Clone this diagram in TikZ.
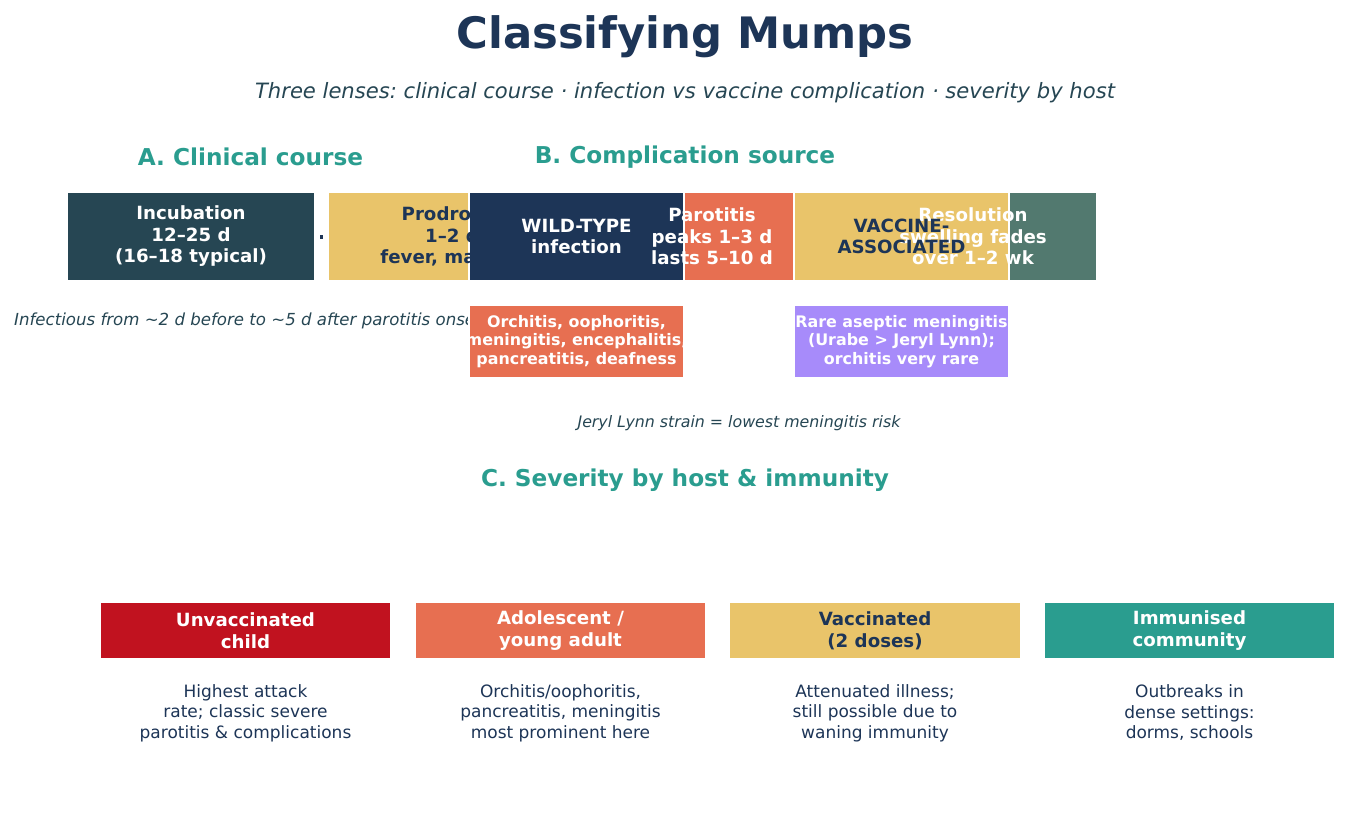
\documentclass[tikz,border=0pt]{standalone}
\usepackage{fontspec}
\setmainfont{DejaVu Sans}
\frenchspacing
\definecolor{navy}{HTML}{1D3557}
\definecolor{slate}{HTML}{264653}
\definecolor{sand}{HTML}{E9C46A}
\definecolor{coral}{HTML}{E76F51}
\definecolor{sage}{HTML}{52796F}
\definecolor{teal}{HTML}{2A9D8F}
\definecolor{crimson}{HTML}{C1121F}
\definecolor{lilac}{HTML}{A78BFA}
\tikzset{
  boxshape/.style={draw=white, line width=1.2pt, inner sep=0pt, fill=#1},
  boxA/.style={boxshape=#1, minimum width=248, minimum height=89},
  boxB/.style={boxshape=#1, minimum width=215, minimum height=89},
  boxBl/.style={boxshape=#1, minimum width=215, minimum height=73},
  boxC/.style={boxshape=#1, minimum width=291, minimum height=57},
  lblA/.style={align=center, inner sep=0pt, text=#1, font=\fontsize{18.2}{21.5}\selectfont\bfseries},
  lblBl/.style={align=center, inner sep=0pt, text=white, font=\fontsize{15.9}{18.5}\selectfont\bfseries},
  lblC/.style={align=center, inner sep=0pt, text=#1, font=\fontsize{18.2}{22}\selectfont\bfseries},
  desc/.style={align=center, inner sep=0pt, text=navy, font=\fontsize{17}{20.5}\selectfont},
  head/.style={inner sep=0pt, text=teal, font=\fontsize{23.2}{27}\selectfont\bfseries},
  note/.style={inner sep=0pt, text=slate, font=\fontsize{16.6}{18}\selectfont\itshape},
}
\begin{document}
\begin{tikzpicture}[x=1pt,y=-1pt]
\fill[white] (0,0) rectangle (1350,836);
\useasboundingbox (0,0) rectangle (1350,836);
% titles
\node[inner sep=0pt, text=navy, font=\fontsize{43.3}{50}\selectfont\bfseries] (title) at (685,37) {Classifying Mumps};
\node[inner sep=0pt, text=slate, font=\fontsize{21.1}{24}\selectfont\itshape] (sub) at (685,93) {Three lenses: clinical course · infection vs vaccine complication · severity by host};
\node[head] (hA) at (250.5,157) {A. Clinical course};
\node[head] (hB) at (685,157) {B. Complication source};
\node[head] (hC) at (685,480) {C. Severity by host \& immunity};
% row A boxes
\node[boxA=slate] (inc) at (191,236.5) {};
\node[boxA=sand] (pro) at (452,236.5) {};
\node[boxA=coral] (par) at (712,236.5) {};
\node[boxA=sage] (res) at (973,236.5) {};
\draw[navy, line width=4pt, shorten <=4.5pt, shorten >=4.5pt] (inc.east) -- (pro.west);
% note under row A
\node[note, anchor=west] (inf) at (14,321) {Infectious from \textasciitilde2 d before to \textasciitilde5 d after parotitis onset};
% row B boxes
\node[boxB=navy] (wild) at (576.5,236.5) {};
\node[boxB=sand] (vac) at (901.5,236.5) {};
\node[boxBl=coral] (wildc) at (576.5,341.5) {};
\node[boxBl=lilac] (vacc) at (901.5,341.5) {};
% row A labels
\node[lblA=white] (tinc) at (inc) {Incubation\\12–25 d\\(16–18 typical)};
\node[lblA=navy] (tpro) at (pro) {Prodrome\\1–2 d\\fever, malaise};
\node[lblA=white] (tpar) at (par) {Parotitis\\peaks 1–3 d\\lasts 5–10 d};
\node[lblA=white] (tres) at (res) {Resolution\\swelling fades\\over 1–2 wk};
% row B labels
\node[lblA=white] (twild) at (wild) {WILD-TYPE\\infection};
\node[lblA=navy] (tvac) at (vac) {VACCINE-\\ASSOCIATED};
\node[lblBl] (twildc) at (wildc) {Orchitis, oophoritis,\\meningitis, encephalitis,\\pancreatitis, deafness};
\node[lblBl] (tvacc) at (vacc) {Rare aseptic meningitis\\(Urabe > Jeryl Lynn);\\orchitis very rare};
\node[note, font=\fontsize{15.8}{18}\selectfont\itshape] (jl) at (739,423) {Jeryl Lynn strain = lowest meningitis risk};
% row C
\node[boxC=crimson] (c1) at (245.5,630.5) {};
\node[boxC=coral] (c2) at (560.5,630.5) {};
\node[boxC=sand] (c3) at (875,630.5) {};
\node[boxC=teal] (c4) at (1189.5,630.5) {};
\node[lblC=white] at (c1) {Unvaccinated\\child};
\node[lblC=white] at (c2) {Adolescent /\\young adult};
\node[lblC=navy] at (c3) {Vaccinated\\(2 doses)};
\node[lblC=white] at (c4) {Immunised\\community};
\node[desc] (d1) at (245.5,713) {Highest attack\\rate; classic severe\\parotitis \& complications};
\node[desc] (d2) at (560.5,713) {Orchitis/oophoritis,\\pancreatitis, meningitis\\most prominent here};
\node[desc] (d3) at (875,713) {Attenuated illness;\\still possible due to\\waning immunity};
\node[desc] (d4) at (1189.5,713) {Outbreaks in\\dense settings:\\dorms, schools};
\end{tikzpicture}
\end{document}
